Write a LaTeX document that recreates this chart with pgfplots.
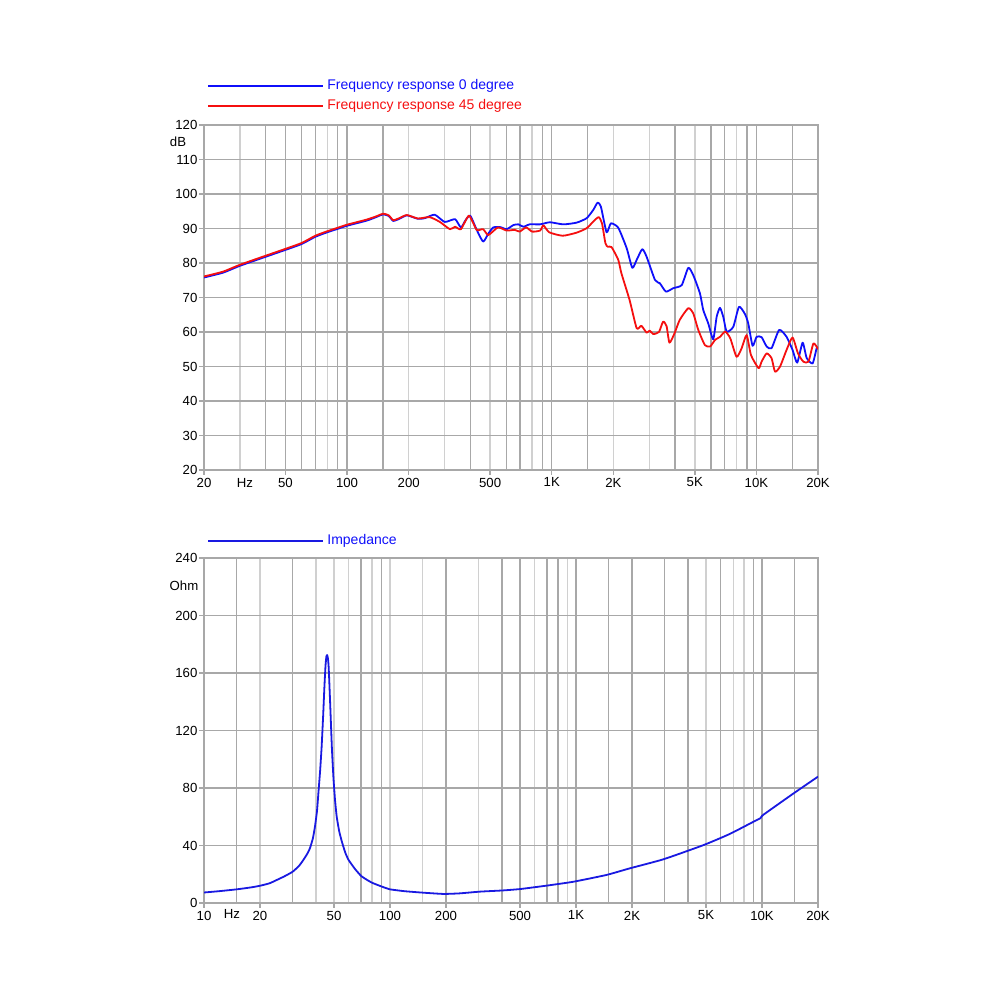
\documentclass[border=0pt]{standalone}
\usepackage{fontspec}
\setmainfont{Liberation Sans}
\usepackage{pgfplots}
\pgfplotsset{compat=1.18}
\usepackage{pgfplotstable}
\definecolor{fblue}{RGB}{15,15,250}
\definecolor{fred}{RGB}{245,15,15}
\definecolor{iblue}{RGB}{25,25,225}
\definecolor{gdark}{RGB}{168,168,168}
\definecolor{glight}{RGB}{208,208,208}

\pgfplotstableread{
f db
20 75.8
24.8 77.2
30 79.2
40 81.8
50 83.8
60 85.5
70 87.6
80 88.9
90 89.9
100 90.8
125 92.3
140 93.4
150 94.1
160 93.6
168 92.2
180 92.8
196 93.8
222 92.8
240 93.0
268 94.0
300 91.9
337 92.7
360 90.3
380 92.5
400 93.7
430 89.6
462 86.2
490 88.5
518 90.3
560 90.4
602 89.8
650 91.0
688 91.2
727 90.5
780 91.2
877 91.2
980 91.8
1138 91.2
1324 91.7
1482 93.0
1596 95.4
1676 97.5
1739 96.3
1854 88.9
1946 91.5
2114 90.2
2323 84.3
2475 78.6
2600 80.9
2768 84.0
2908 81.8
3194 75.1
3378 74.1
3614 71.7
3926 72.7
4316 73.6
4646 78.6
4912 76.5
5298 71.2
5498 66.4
5817 62.5
6152 57.9
6394 64.4
6638 67.0
6888 64.4
7158 60.1
7710 61.5
8220 67.3
8790 65.2
9122 62.5
9580 56.0
10020 58.6
10600 58.5
11220 55.8
11860 55.3
12920 60.6
14040 58.6
15020 54.8
15820 51.1
16820 56.9
17600 52.5
18820 50.9
19700 55.3
20000 55.5
}\tblue

\pgfplotstableread{
f db
20 76.1
24.8 77.5
30 79.5
40 82.1
50 84.1
60 85.8
70 87.9
80 89.2
90 90.2
100 91.1
125 92.6
140 93.6
150 94.3
160 93.8
168 92.4
180 93.0
196 93.9
222 92.9
253 93.3
284 91.9
318 89.8
337 90.5
360 89.8
394 93.7
430 89.6
462 89.8
490 88.1
546 90.3
602 89.4
660 89.6
697 89.1
750 90.3
802 89.1
877 89.4
910 90.9
972 88.9
1130 87.9
1324 88.8
1482 90.1
1596 92.0
1695 93.3
1760 91.5
1830 85.7
1880 84.7
1960 84.6
2114 80.9
2190 77.0
2400 69.3
2600 61.1
2740 61.8
2908 59.8
3010 60.4
3130 59.4
3340 60.0
3500 63.0
3640 61.7
3760 56.9
3980 59.6
4220 63.5
4646 66.9
4912 65.4
5200 60.6
5600 56.2
5940 55.8
6280 57.7
6640 58.6
7040 60.1
7450 58.2
8000 52.8
8470 55.3
8960 59.1
9410 53.3
10250 49.5
10600 51.4
11220 53.8
11860 52.4
12330 48.5
13050 50.0
14040 54.8
15020 58.4
15960 53.8
16960 51.4
17960 51.4
19000 56.7
20000 55.0
}\tred

\pgfplotstableread{
f z
10 7.3
12 8.2
15 9.5
18 10.9
20 12.0
22.5 13.7
24.6 16.0
27 18.5
30 21.8
32.5 26
34.2 29.9
36 34.5
37.1 38.0
38.5 45
39.5 53.1
40.5 64
41.2 76.3
42.1 92
42.9 108.7
43.7 130
44.4 150.5
45.0 165
45.5 171.5
45.9 172.5
46.4 170
46.8 164
47.3 150
47.9 132
48.7 108
49.6 87.9
50.6 72
51.7 60
53.3 50
55.1 42.7
57.5 35
59.9 29.9
65 23.5
70 18.8
75 16.2
80 14.1
90 11.5
100 9.5
120 8.2
150 7.2
194 6.3
237 6.7
304 7.9
400 8.7
500 9.7
697 12.1
969 14.8
1457 19.5
1945 24.1
2950 30.4
4850 40.3
6700 48
9300 57.5
9800 59
10200 61.5
14800 76.3
20000 87.9
}\timp

\begin{document}
\begin{tikzpicture}[x=1pt,y=1pt]
\path[use as bounding box] (0,0) rectangle (500,500);

% legends
\draw[fblue, line width=1pt] (104,457) -- (161.5,457);
\node[anchor=west, inner sep=0pt, text=fblue, font=\fontsize{7}{8}\selectfont] at (163.5,457) {Frequency response 0 degree};
\draw[fred, line width=1pt] (104,447) -- (161.5,447);
\node[anchor=west, inner sep=0pt, text=fred, font=\fontsize{7}{8}\selectfont] at (163.5,447) {Frequency response 45 degree};
\draw[iblue, line width=1pt] (104,229.5) -- (161.5,229.5);
\node[anchor=west, inner sep=0pt, text=fblue, font=\fontsize{7}{8}\selectfont] at (163.5,229.5) {Impedance};

% unit labels
\node[font=\fontsize{6.6}{7}\selectfont] at (89,429) {dB};
\node[font=\fontsize{6.6}{7}\selectfont] at (122.5,258.3) {Hz};
\node[font=\fontsize{6.6}{7}\selectfont] at (92,207) {Ohm};
\node[font=\fontsize{6.6}{7}\selectfont] at (116,43) {Hz};

\begin{axis}[xmode=log, at={(102pt,265pt)}, anchor=south west,
  scale only axis, width=307pt, height=172.5pt,
  axis line style={gdark, line width=0.7pt},
  tick style={gdark, line width=0.7pt},
  tick align=outside, tick pos=left,
  major tick length=2.5pt,
  minor tick length=0pt,
  grid=both,
  major grid style={glight, line width=0.7pt},
  minor grid style={glight, line width=0.7pt},
  y grid style={gdark, line width=0.7pt},
  tick label style={font=\fontsize{6.6}{7}\selectfont, text=black},
  yticklabel style={inner sep=0.6pt},
  xticklabel style={inner sep=1.2pt},
  extra x tick labels={},
  extra x tick style={grid=major, major grid style={gdark, line width=0.7pt}, major tick length=0pt},
  xmin=20, xmax=20000, ymin=20, ymax=120,
  xtick={20,50,100,200,500,1000,2000,5000,10000,20000},
  xticklabels={20,50,100,200,500,1K,2K,5K,10K,20K},
  minor xtick={30,80,300,800,3000,8000},
  extra x ticks={40,50,60,70,90,100,150,400,600,700,900,1000,1500,4000,6000,7000,9000,10000,15000},
  ytick={20,30,40,50,60,70,80,90,100,110,120},
  yticklabels={20,30,40,50,60,70,80,90,100,110,120},
]
\addplot[fblue, line width=0.9pt, line join=round, smooth, tension=0.35] table[x=f, y=db] {\tblue};
\addplot[fred, line width=0.9pt, line join=round, smooth, tension=0.35] table[x=f, y=db] {\tred};
\end{axis}

\begin{axis}[xmode=log, at={(102pt,48.5pt)}, anchor=south west,
  scale only axis, width=307pt, height=172.5pt,
  axis line style={gdark, line width=0.7pt},
  tick style={gdark, line width=0.7pt},
  tick align=outside, tick pos=left,
  major tick length=2.5pt,
  minor tick length=0pt,
  grid=both,
  major grid style={glight, line width=0.7pt},
  minor grid style={glight, line width=0.7pt},
  y grid style={gdark, line width=0.7pt},
  tick label style={font=\fontsize{6.6}{7}\selectfont, text=black},
  yticklabel style={inner sep=0.6pt},
  xticklabel style={inner sep=1.2pt},
  extra x tick labels={},
  extra x tick style={grid=major, major grid style={gdark, line width=0.7pt}, major tick length=0pt},
  xmin=10, xmax=20000, ymin=0, ymax=240,
  xtick={10,20,50,100,200,500,1000,2000,5000,10000,20000},
  xticklabels={10,20,50,100,200,500,1K,2K,5K,10K,20K},
  minor xtick={40,60,80,150,300,600,900,7000,8000},
  extra x ticks={15,30,70,90,200,400,500,700,800,1000,1500,2000,3000,4000,6000,9000,10000,15000},
  ytick={0,40,80,120,160,200,240},
  yticklabels={0,40,80,120,160,200,240},
]
\addplot[iblue, line width=0.9pt, line join=round, smooth, tension=0.3] table[x=f, y=z] {\timp};
\end{axis}
\end{tikzpicture}
\end{document}
